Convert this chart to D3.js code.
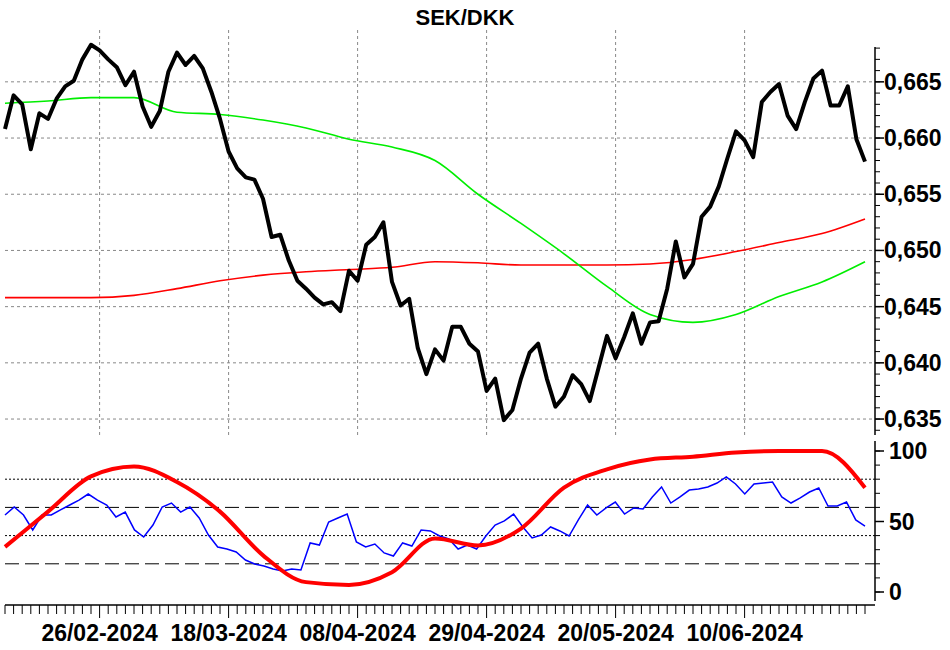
<!DOCTYPE html>
<html><head><meta charset="utf-8">
<script src="https://cdn.jsdelivr.net/npm/d3@7"></script>
<style>body{margin:0;background:#fff}text{font-family:"Liberation Sans Narrow","Liberation Sans",Arial,sans-serif}</style>
</head><body><div id="chart"></div>
<script>
const title = "SEK/DKK"
const startDate = "2024-02-09"
const nDays = 101
const labelIdx = [11, 26, 41, 56, 71, 86]
const priceTicks = [0.635, 0.640, 0.645, 0.650, 0.655, 0.660, 0.665]
const oscTicks = [0, 50, 100]

const price = [.6608,.6638,.6630,.6590,.6622,.6617,.6635,.6646,.6651,.6670,.6683,.6678,.6670,.6663,.6647,.6659,.6628,.6610,.6624,.6659,
  .6676,.6665,.6673,.6662,.6641,.6617,.6588,.6573,.6565,.6563,.6546,.6512,.6514,.6491,.6473,.6466,.6458,.6452,.6454,.6446,
  .6482,.6473,.6505,.6512,.6525,.6472,.6451,.6457,.6413,.6390,.6412,.6402,.6432,.6432,.6417,.6410,.6375,.6386,.6349,.6358,
  .6386,.6409,.6417,.6386,.6361,.6370,.6389,.6381,.6366,.6395,.6424,.6404,.6423,.6444,.6417,.6436,.6437,.6466,.6508,.6476,
  .6488,.6530,.6539,.6557,.6582,.6606,.6598,.6583,.6632,.6641,.6648,.6620,.6608,.6632,.6653,.6660,.6629,.6629,.6646,.6599,.6579]
// moving averages sampled every 5 days
const maStep = 5
const maShort = [.6631,.6633,.6636,.6636,.6623,.6621,.6616,.6609,.6599,.6592,.6580,.6550,.6524,.6497,.6468,.6443,.6436,.6443,.6459,.6472,.6490]
const maLong = [.6458,.6458,.6458,.6460,.6466,.6473,.6478,.6481,.6483,.6485,.6490,.6489,.6487,.6487,.6487,.6488,.6492,.6499,.6507,.6515,.6528]
const oscSlow = [32,57,82,89,78,57,26,7,5,14,38,33,45,74,87,94,96,99,100,100,74]
const oscFast = [54.6,60.3,54.6,44,54.6,54.6,58.2,61.7,65.2,69.5,65.2,61.7,53.2,56.7,44,39,47.5,60.3,63.1,56.7,
  60.3,52.5,40.4,31.9,30.5,28.4,22.7,19.9,18.4,16.3,14.9,16.3,15.6,34.8,33.3,49.6,52.5,55.3,35.5,31.9,
  34,27.7,25.5,34.8,32.6,44,43.3,39.7,37.6,30.5,33.3,30.5,39.7,47.5,50.4,55.3,46.1,38.3,40.4,46.1,
  43.3,39.7,51.1,61.7,54.6,59.6,63.8,55.3,59.6,58.9,67.4,74.5,63.1,67.4,72.3,73,74.5,77.3,81.6,76.6,
  69.5,76.6,77.3,78,67.4,63.1,66.7,70.9,73.8,61,61,63.8,51.1,46.8]
const refDotted = [80, 40]
const refDashed = [60, 20]

// trading days (weekdays)
const dates = []
for (let d = new Date(startDate + "T12:00:00"); dates.length < nDays; d.setDate(d.getDate() + 1)) {
  if (d.getDay() !== 0 && d.getDay() !== 6) dates.push(new Date(d))
}
const fmt = d3.timeFormat("%d/%m-%Y")

const W = 950, H = 650
const left = 5, right = 875
const svg = d3.select("#chart").append("svg").attr("width", W).attr("height", H)

const x = d3.scaleLinear().domain([0, nDays - 1]).range([left, 865])
const y = d3.scaleLinear().domain([0.63358, 0.6681]).range([435, 47])
const y2 = d3.scaleLinear().domain([0, 100]).range([592, 451])

svg.append("text").attr("x", 465).attr("y", 25).attr("text-anchor", "middle")
  .attr("font-size", 22).attr("font-weight", "bold").text(title)

// grid
svg.append("g").selectAll("line").data(priceTicks).join("line")
  .attr("x1", left).attr("x2", right).attr("y1", d => y(d)).attr("y2", d => y(d))
  .attr("stroke", "#888").attr("stroke-dasharray", "3,3")
svg.append("g").selectAll("line").data(labelIdx).join("line")
  .attr("x1", d => x(d)).attr("x2", d => x(d)).attr("y1", 30).attr("y2", 435)
  .attr("stroke", "#888").attr("stroke-dasharray", "3,3")

// right price axis
const ax1 = svg.append("g").attr("transform", `translate(${right},0)`)
ax1.append("line").attr("y1", 47).attr("y2", 435).attr("stroke", "#000").attr("stroke-width", 1.5)
ax1.selectAll(".mn").data(d3.range(0.634, 0.6681, 0.001)).join("line")
  .attr("x2", 5).attr("y1", d => y(d)).attr("y2", d => y(d)).attr("stroke", "#000")
ax1.selectAll(".mj").data(priceTicks).join("line")
  .attr("x2", 9).attr("y1", d => y(d)).attr("y2", d => y(d)).attr("stroke", "#000").attr("stroke-width", 1.5)
ax1.selectAll("text").data(priceTicks).join("text")
  .attr("x", 9).attr("y", d => y(d) + 8).attr("font-size", 23).attr("font-weight", "bold")
  .text(d => d3.format(".3f")(d).replace(".", ","))

// main lines
const line = d3.line().x((d, i) => x(i)).y(d => y(d))
const maLine = d3.line().x((d, i) => x(i * maStep)).y(d => y(d)).curve(d3.curveMonotoneX)
svg.append("path").attr("d", maLine(maLong)).attr("fill", "none").attr("stroke", "#ff0000").attr("stroke-width", 1.6)
svg.append("path").attr("d", maLine(maShort)).attr("fill", "none").attr("stroke", "#00ee00").attr("stroke-width", 1.6)
svg.append("path").attr("d", line(price)).attr("fill", "none").attr("stroke", "#000").attr("stroke-width", 4)
  .attr("stroke-linejoin", "round")

// oscillator panel
svg.append("g").selectAll("line").data(refDotted).join("line")
  .attr("x1", left).attr("x2", right).attr("y1", d => y2(d)).attr("y2", d => y2(d))
  .attr("stroke", "#000").attr("stroke-dasharray", "2,2")
svg.append("g").selectAll("line").data(refDashed).join("line")
  .attr("x1", left).attr("x2", right).attr("y1", d => y2(d)).attr("y2", d => y2(d))
  .attr("stroke", "#000").attr("stroke-dasharray", "14,6")
const ax2 = svg.append("g").attr("transform", `translate(${right},0)`)
ax2.append("line").attr("y1", 441).attr("y2", 601).attr("stroke", "#000").attr("stroke-width", 1.5)
ax2.selectAll(".mn").data(d3.range(0, 101, 10)).join("line")
  .attr("x2", 5).attr("y1", d => y2(d)).attr("y2", d => y2(d)).attr("stroke", "#000")
ax2.selectAll(".mj").data(oscTicks).join("line")
  .attr("x2", 9).attr("y1", d => y2(d)).attr("y2", d => y2(d)).attr("stroke", "#000").attr("stroke-width", 1.5)
ax2.selectAll("text").data(oscTicks).join("text")
  .attr("x", 14).attr("y", d => y2(d) + 8).attr("font-size", 23).attr("font-weight", "bold").text(d => d)

const fastX = d3.scaleLinear().domain([0, oscFast.length - 1]).range([x(0), x(nDays - 1)])
svg.append("path").attr("d", d3.line().x((d, i) => fastX(i)).y(d => y2(d))(oscFast))
  .attr("fill", "none").attr("stroke", "#0000ff").attr("stroke-width", 1.5)
svg.append("path").attr("d", d3.line().x((d, i) => x(i * maStep)).y(d => y2(d)).curve(d3.curveMonotoneX)(oscSlow))
  .attr("fill", "none").attr("stroke", "#ff0000").attr("stroke-width", 4)

// date axis
const ax3 = svg.append("g").attr("transform", "translate(0,605)")
ax3.append("line").attr("x1", left).attr("x2", right).attr("stroke", "#000").attr("stroke-width", 1.5)
ax3.selectAll("line.t").data(d3.range(nDays)).join("line").attr("class", "t")
  .attr("x1", d => x(d)).attr("x2", d => x(d)).attr("y2", d => (labelIdx.includes(d) ? 13 : 9)).attr("stroke", "#000")
ax3.selectAll("text").data(labelIdx).join("text")
  .attr("x", d => x(d)).attr("y", 36).attr("text-anchor", "middle")
  .attr("font-size", 23).attr("font-weight", "bold").text(d => fmt(dates[d]))
</script></body></html>
